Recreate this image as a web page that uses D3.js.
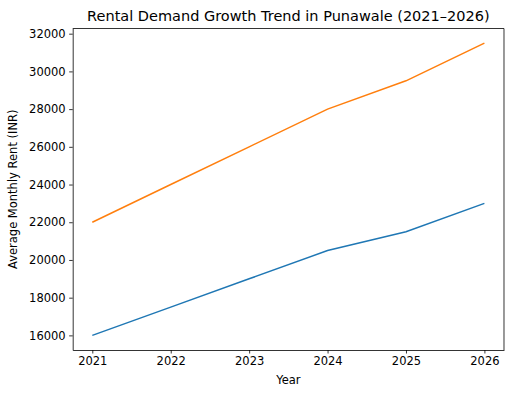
<!DOCTYPE html>
<html>
<head>
<meta charset="utf-8">
<script src="https://cdn.jsdelivr.net/npm/d3@7"></script>
<style>
  body { margin: 0; background: #fff; }
  svg text { font-family: "DejaVu Sans", sans-serif; fill: #000; }
  .axis path, .axis line { stroke: #000; stroke-width: 0.8; }
  .axis text { font-size: 11.5px; fill: #000; }
</style>
</head>
<body>
<div id="svgcontainer"></div>
<script>
var years = [2021, 2022, 2023, 2024, 2025, 2026];
var lowRent = [16000, 17500, 19000, 20500, 21500, 23000];
var highRent = [22000, 24000, 26000, 28000, 29500, 31500];
var yTicks = [16000, 18000, 20000, 22000, 24000, 26000, 28000, 30000, 32000];
var colors = ["#1f77b4", "#ff7f0e"];

var margin = {top: 28.5, right: 8, bottom: 46, left: 72.7},
    width = 512 - margin.left - margin.right,
    height = 396 - margin.top - margin.bottom,
    svg = d3.select("div#svgcontainer")
            .append("svg")
            .attr("width", 512)
            .attr("height", 396),
    g = svg.append("g")
           .attr("transform", "translate(" + margin.left + "," + margin.top + ")");

var x = d3.scaleLinear().domain([2020.75, 2026.25]).range([0, width]);
var y = d3.scaleLinear().domain([15225, 32275]).range([height, 0]);

var line = d3.line()
    .x(function(d, i){ return x(years[i]); })
    .y(function(d){ return y(d); });

g.append("g")
  .attr("class", "axis")
  .attr("transform", "translate(0," + height + ")")
  .call(d3.axisBottom(x).tickValues(years).tickFormat(d3.format("d"))
        .tickSize(3.5).tickSizeOuter(0).tickPadding(3.5));

g.append("g")
  .attr("class", "axis")
  .call(d3.axisLeft(y).tickValues(yTicks).tickFormat(d3.format("d"))
        .tickSize(3.5).tickSizeOuter(0).tickPadding(3.5));

// top and right spines
g.append("line").attr("x1", 0).attr("x2", width).attr("y1", 0).attr("y2", 0)
  .attr("stroke", "#000").attr("stroke-width", 0.8);
g.append("line").attr("x1", width).attr("x2", width).attr("y1", 0).attr("y2", height)
  .attr("stroke", "#000").attr("stroke-width", 0.8);

[lowRent, highRent].forEach(function(s, i){
  g.append("path")
    .datum(s)
    .attr("d", line)
    .attr("fill", "none")
    .attr("stroke", colors[i])
    .attr("stroke-width", 1.5);
});

g.append("text")
  .attr("x", width / 2)
  .attr("y", -8)
  .attr("text-anchor", "middle")
  .style("font-size", "14.5px")
  .text("Rental Demand Growth Trend in Punawale (2021–2026)");

g.append("text")
  .attr("x", width / 2)
  .attr("y", height + 34)
  .attr("text-anchor", "middle")
  .style("font-size", "11.5px")
  .text("Year");

g.append("text")
  .attr("transform", "rotate(-90)")
  .attr("x", -height / 2)
  .attr("y", -56)
  .attr("text-anchor", "middle")
  .style("font-size", "11.5px")
  .text("Average Monthly Rent (INR)");
</script>
</body>
</html>
